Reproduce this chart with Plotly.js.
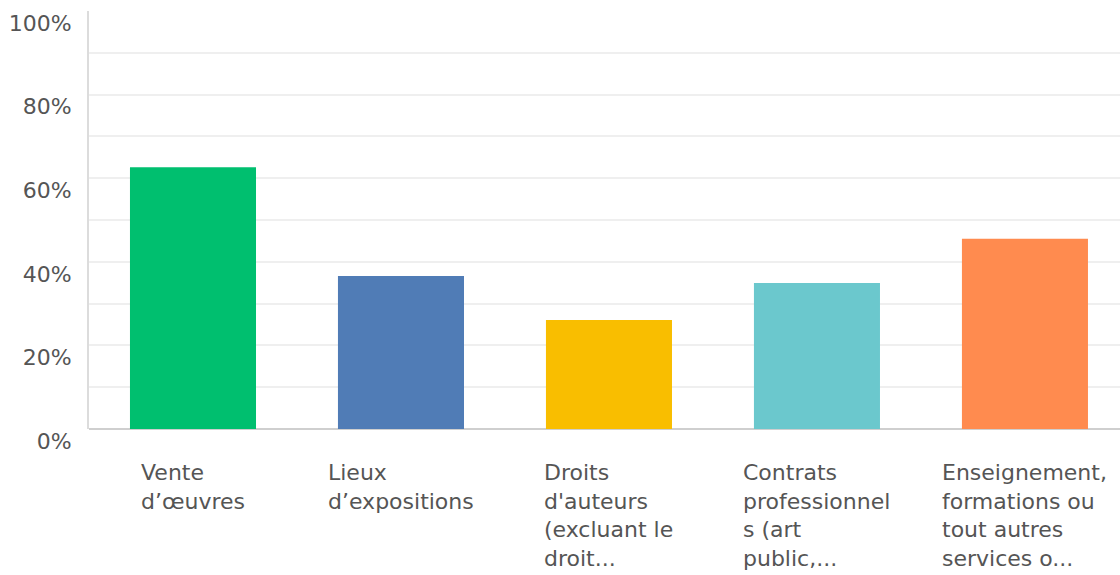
<!DOCTYPE html>
<html>
<head>
<meta charset="utf-8">
<script src="https://cdn.plot.ly/plotly-3.0.1.min.js"></script>
<style>
  html, body { margin: 0; padding: 0; background: #fff; }
  #chart { width: 1120px; height: 575px; }
</style>
</head>
<body>
<div id="chart"></div>
<script>
// Data
const categories = [
  "Vente d’œuvres",
  "Lieux d’expositions",
  "Droits d'auteurs (excluant le droit...",
  "Contrats professionnels (art public,...",
  "Enseignement, formations ou tout autres services o..."
];
const tickLabels = [
  "Vente<br>d’œuvres",
  "Lieux<br>d’expositions",
  "Droits<br>d'auteurs<br>(excluant le<br>droit...",
  "Contrats<br>professionnel<br>s (art<br>public,...",
  "Enseignement,<br>formations ou<br>tout autres<br>services o..."
];
const values = [0.626, 0.366, 0.261, 0.349, 0.455];
const colors = ["#00BF6F", "#507CB6", "#F9BE00", "#6BC8CD", "#FF8B4F"];
const yTickVals = [0, 0.2, 0.4, 0.6, 0.8, 1.0];
const yMinorVals = [0.1, 0.2, 0.3, 0.4, 0.5, 0.6, 0.7, 0.8, 0.9];

const FONT = "'DejaVu Sans', 'Open Sans', sans-serif";

const trace = {
  type: "bar",
  x: categories,
  y: values,
  marker: { color: colors, line: { width: 0 } },
  hoverinfo: "none"
};

const annotations = tickLabels.map((t, i) => ({
  x: categories[i],
  y: 0,
  xref: "x",
  yref: "y",
  text: t,
  showarrow: false,
  xanchor: "center",
  yanchor: "top",
  align: "left",
  yshift: -29,
  font: { family: FONT, size: 22, color: "#555" }
}));

const layout = {
  width: 1120,
  height: 575,
  margin: { l: 89, r: 0, t: 11, b: 146 },
  paper_bgcolor: "#fff",
  plot_bgcolor: "#fff",
  showlegend: false,
  bargap: 0.394,
  xaxis: {
    type: "category",
    range: [-0.5, 4.457],
    showticklabels: false,
    showgrid: false,
    zeroline: false,
    showline: false,
    ticks: ""
  },
  yaxis: {
    range: [0, 1],
    tickvals: yTickVals,
    tickformat: ".0%",
    showgrid: false,
    zeroline: true,
    zerolinecolor: "#cfcfcf",
    zerolinewidth: 2,
    showline: true,
    linecolor: "#dcdcdc",
    linewidth: 2,
    ticks: "",
    ticklabelshift: 12,
    ticklabelstandoff: 11,
    tickfont: { family: FONT, size: 22, color: "#555" },
    minor: {
      tickvals: yMinorVals,
      showgrid: true,
      gridcolor: "#efefef",
      gridwidth: 2,
      ticks: ""
    }
  },
  annotations: annotations
};

Plotly.newPlot("chart", [trace], layout, { displayModeBar: false, staticPlot: true });
</script>
</body>
</html>
